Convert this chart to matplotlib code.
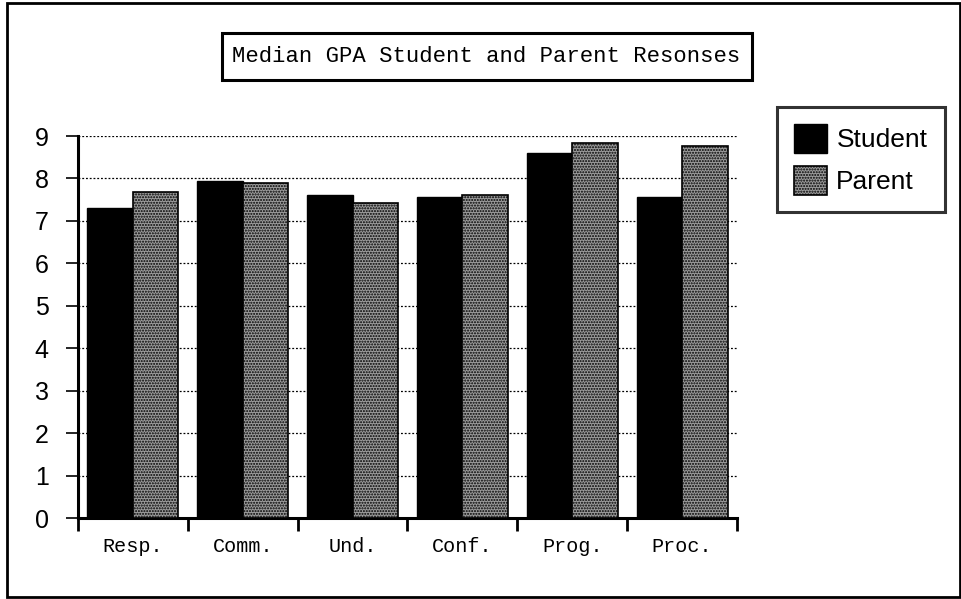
import matplotlib

matplotlib.use("Agg")

import matplotlib.pyplot as plt
import numpy as np
from matplotlib.patches import Rectangle

categories = ["Resp.", "Comm.", "Und.", "Conf.", "Prog.", "Proc."]
student = [7.31, 7.94, 7.61, 7.57, 8.59, 7.56]
parent = [7.69, 7.89, 7.43, 7.62, 8.83, 8.77]
y_ticks = [0, 1, 2, 3, 4, 5, 6, 7, 8, 9]
title = "Median GPA Student and Parent Resonses"

W, H = 962, 599
fig = plt.figure(figsize=(W / 100, H / 100), dpi=100)
fig.patch.set_facecolor("white")

# axes placed in pixel terms, converted to figure fractions
ax = fig.add_axes([78 / W, 1 - 518 / H, (737 - 78) / W, (518 - 136) / H])

x = np.arange(len(categories))
bw = 0.415
mono = "Liberation Mono"
sans = "Liberation Sans"

plt.rcParams["hatch.color"] = "#2a2a2a"
plt.rcParams["hatch.linewidth"] = 1.0

ax.bar(x - bw / 2, student, width=bw, color="black", edgecolor="black",
       linewidth=1, zorder=3, label="Student")
ax.bar(x + bw / 2, parent, width=bw, color="#9c9c9c", edgecolor="black",
       hatch="......", linewidth=1.2, zorder=3, label="Parent")

ax.set_xlim(-0.5, len(categories) - 0.5)
ax.set_ylim(0, 9)
ax.set_yticks(y_ticks)
ax.set_yticklabels([str(t) for t in y_ticks], fontsize=18, family=sans)
for t in y_ticks[1:]:
    ax.axhline(t, color="black", linestyle=(0, (1.5, 1.5)), linewidth=0.9, zorder=1)

ax.set_xticks(x)
ax.set_xticklabels(categories, fontsize=14.5, family=mono)
ax.set_xticks(np.arange(len(categories) + 1) - 0.5, minor=True)
ax.tick_params(axis="x", which="major", length=0, pad=14)
ax.tick_params(axis="x", which="minor", length=9, width=2, direction="out")
ax.tick_params(axis="y", length=9, width=1.2, direction="out", pad=12)

for side in ("top", "right"):
    ax.spines[side].set_visible(False)
for side in ("left", "bottom"):
    ax.spines[side].set_linewidth(2.2)

# title box
fig.patches.append(Rectangle((222 / W, 1 - 80 / H), (752 - 222) / W, (80 - 33) / H,
                             transform=fig.transFigure, fill=False,
                             edgecolor="black", linewidth=2.2))
fig.text(486 / W, 1 - 57 / H, title, family=mono, fontsize=16,
         ha="center", va="center")

# outer frame
fig.patches.append(Rectangle((7 / W, 2 / H), (960 - 7) / W, (596 - 2) / H,
                             transform=fig.transFigure, fill=False,
                             edgecolor="black", linewidth=2))

leg = fig.legend(loc="upper left", bbox_to_anchor=(777 / W, 1 - 107 / H),
                 prop={"family": sans, "size": 19}, frameon=True, fancybox=False,
                 handlelength=1.25, handleheight=1.3, handletextpad=0.35,
                 borderpad=0.65, labelspacing=0.5, borderaxespad=0)
leg.get_frame().set_edgecolor("black")
leg.get_frame().set_linewidth(2.2)

fig.savefig("out.png", dpi=100)
